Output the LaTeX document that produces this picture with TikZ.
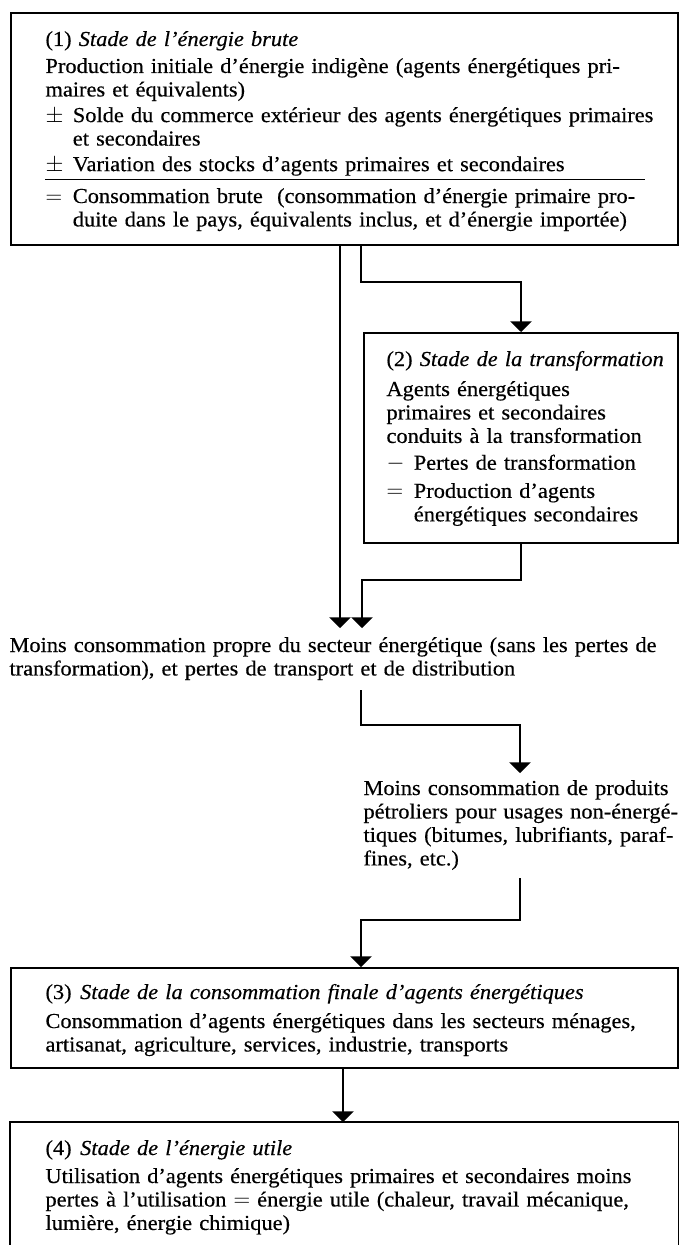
\documentclass[tikz,border=0pt]{standalone}
\usepackage{fontspec}
\setmainfont{Liberation Serif}[FakeStretch=1.05,FakeBold=0.35]
\usetikzlibrary{arrows.meta}

\tikzset{every picture/.style={line width=0.75pt}}
\tikzset{
  stagebox/.style={draw, line width=1.2pt, inner sep=0pt, anchor=north west},
  stagetext/.style={anchor=base west, inner sep=0pt, align=left, font=\fontsize{16pt}{17.6pt}\selectfont},
  flow/.style={line width=1pt, -{Triangle[width=16pt,length=8pt]}},
}
\newcommand{\sline}[2]{\makebox[#1][s]{#2}}
\newcommand{\sgn}[1]{\makebox[20.5pt][l]{#1}}

\begin{document}
\begin{tikzpicture}[x=0.75pt,y=0.75pt,yscale=-1,xscale=1]
%set diagram left start at 0, and has height of 1245
\useasboundingbox (0,0) rectangle (678,1245);
\fill[white] (0,0) rectangle (678,1245);

%Shape: Rectangle [id:box1]
\draw (10,12) node [stagebox, minimum width=500.25pt, minimum height=174pt] (box1) {};
%Shape: Rectangle [id:box2]
\draw (363,332) node [stagebox, minimum width=235.5pt, minimum height=157.5pt] (box2) {};
%Shape: Rectangle [id:box3]
\draw (10,967) node [stagebox, minimum width=500.25pt, minimum height=75pt] (box3) {};
%Shape: Rectangle [id:box4] (open at the lower edge)
\draw (10,1122) node [stagebox, draw=none, minimum width=500.25pt, minimum height=105pt] (box4) {};
\draw [line width=1.2pt] (box4.south west) -- (box4.north west) -- (box4.north east) -- (box4.south east) ;

%Straight Lines [id:rule1]
\draw (45,180) -- (645,180) ;

% Text Node
\draw (45,46) node [stagetext, text width=450pt] (h1) {(1) \textit{Stade de l’énergie brute}};
% Text Node
\draw (45,73) node [stagetext, text width=450pt] (p1) {\sline{450pt}{Production initiale d’énergie indigène (agents énergétiques pri-}\\maires et équivalents)\\[1.6pt]
\sgn{$\pm$}\sline{429.5pt}{Solde du commerce extérieur des agents énergétiques primaires}\\\hspace*{20.5pt}et secondaires\\[1.6pt]
\sgn{$\pm$}Variation des stocks d’agents primaires et secondaires};
% Text Node
\draw (45,203) node [stagetext, text width=450pt] (p4) {\sgn{$=$}\sline{429.5pt}{Consommation brute\ \ (consommation d’énergie primaire pro-}\\\hspace*{20.5pt}\sline{429.5pt}{duite dans le pays, équivalents inclus, et d’énergie importée)}};

% Text Node
\draw (386,366) node [stagetext, text width=220pt] (h2) {(2) \textit{Stade de la transformation}};
% Text Node
\draw (386,396) node [stagetext, text width=220pt] (p5) {Agents énergétiques\\primaires et secondaires\\conduits à la transformation\\[2.5pt]
\sgn{$-$}Pertes de transformation\\[3.5pt]
\sgn{$=$}Production d’agents\\\hspace*{20.5pt}énergétiques secondaires};

% Text Node
\draw (9,652) node [stagetext, text width=501pt] (m1) {\sline{501pt}{Moins consommation propre du secteur énergétique (sans les pertes de}\\transformation), et pertes de transport et de distribution};
% Text Node
\draw (363,795) node [stagetext, text width=235.5pt] (m2) {\sline{235.5pt}{Moins consommation de produits}\\\sline{235.5pt}{pétroliers pour usages non-énergé-}\\\sline{235.5pt}{tiques (bitumes, lubrifiants, paraf-}\\fines, etc.)};

% Text Node
\draw (45,999) node [stagetext, text width=450pt] (h3) {(3)\hspace{0.4em}\textit{Stade de la consommation finale d’agents énergétiques}};
% Text Node
\draw (45,1028) node [stagetext, text width=450pt] (p8) {\sline{450pt}{Consommation d’agents énergétiques dans les secteurs ménages,}\\artisanat, agriculture, services, industrie, transports};

% Text Node
\draw (45,1155) node [stagetext, text width=450pt] (h4) {(4)\hspace{0.4em}\textit{Stade de l’énergie utile}};
% Text Node
\draw (45,1183) node [stagetext, text width=450pt] (p9) {\sline{450pt}{Utilisation d’agents énergétiques primaires et secondaires moins}\\\sline{450pt}{pertes à l’utilisation $=$ énergie utile (chaleur, travail mécanique,}\\lumière, énergie chimique)};

% bend points
\coordinate (k1) at (340,628);
\coordinate (k2) at (361,282);
\coordinate (k3) at (521,282);
\coordinate (k4) at (521,580);
\coordinate (k5) at (362,628);
\coordinate (k6) at (361,690);
\coordinate (k7) at (520,725);
\coordinate (k8) at (520,773);
\coordinate (k9) at (520,878);
\coordinate (k10) at (361,920);
\coordinate (k11) at (343,1100);

%Straight Lines [id:flow1]
\draw [flow] (box1.south -| k1) -- (k1) ;
%Straight Lines [id:flow2]
\draw [flow] (box1.south -| k2) -- (k2) -- (k3) -- (box2.north -| k3) ;
%Straight Lines [id:flow3]
\draw [flow] (box2.south -| k4) -- (k4) -| (k5) ;
%Straight Lines [id:flow4]
\draw [flow] (k6) |- (k7) -- (k8) ;
%Straight Lines [id:flow5]
\draw [flow] (k9) |- (k10) -- (box3.north -| k10) ;
%Straight Lines [id:flow6]
\draw [flow] (box3.south -| k11) -- (box4.north -| k11) ;

\end{tikzpicture}
\end{document}
